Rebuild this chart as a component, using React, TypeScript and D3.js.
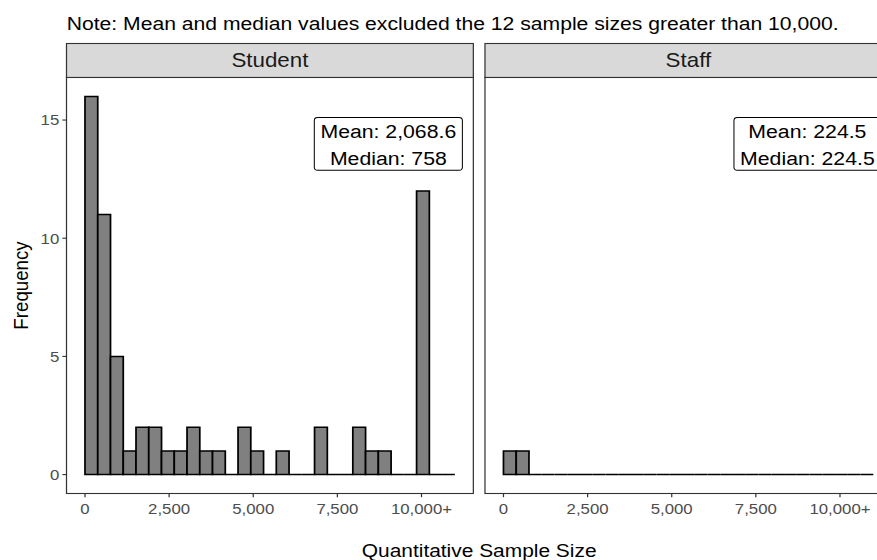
import React, { useEffect, useRef } from "react";
import * as d3 from "d3";

const panels = ["Student", "Staff"];
const binWidth = 379;
const studentCounts = [16, 11, 5, 1, 2, 2, 1, 1, 2, 1, 1, 0, 2, 1, 0, 1, 0, 0, 2, 0, 0, 2, 1, 1, 0, 0, 12, 0, 0];
const staffCounts = [1, 1, 0, 0, 0, 0, 0, 0, 0, 0, 0, 0, 0, 0, 0, 0, 0, 0, 0, 0, 0, 0, 0, 0, 0, 0, 0, 0, 0];
const meanLabels = ["Mean: 2,068.6", "Mean: 224.5"];
const medianLabels = ["Median: 758", "Median: 224.5"];
const xTicks = [0, 2500, 5000, 7500, 10000];
const xTickLabels = ["0", "2,500", "5,000", "7,500", "10,000+"];
const yTicks = [0, 5, 10, 15];
const titleText = "Note: Mean and median values excluded the 12 sample sizes greater than 10,000.";
const xTitle = "Quantitative Sample Size";
const yTitle = "Frequency";

const FONT = "'Liberation Sans', Arial, Helvetica, sans-serif";

export default function App() {
  const ref = useRef<SVGSVGElement | null>(null);

  useEffect(() => {
    const svg = d3.select(ref.current);
    svg.selectAll("*").remove();
    const SX = 877 / 784;
    const root = svg.append("g").attr("transform", `scale(${SX},1)`);

    const panelW = 363.7;
    const panelLefts = [59.45, 433.55];
    const stripTop = 43.5;
    const panelTop = 77.5;
    const panelBottom = 493.5;

    const allCounts = [studentCounts, staffCounts];
    const nb = studentCounts.length;
    const R = nb * binWidth;
    const yMax = d3.max(studentCounts) as number;

    const y = d3
      .scaleLinear()
      .domain([-0.05 * yMax, yMax * 1.05])
      .range([panelBottom, panelTop]);

    // title
    root
      .append("text")
      .attr("x", 59.6)
      .attr("y", 30)
      .attr("font-family", FONT)
      .attr("font-size", 18.9)
      .attr("fill", "#000")
      .text(titleText);

    panels.forEach((name, pi) => {
      const left = panelLefts[pi];
      const x = d3
        .scaleLinear()
        .domain([-0.05 * R, R * 1.05])
        .range([left, left + panelW]);
      const g = root.append("g");

      // strip
      g.append("rect")
        .attr("x", left)
        .attr("y", stripTop)
        .attr("width", panelW)
        .attr("height", panelTop - stripTop)
        .attr("fill", "#D9D9D9")
        .attr("stroke", "#333333")
        .attr("stroke-width", 1.1);
      g.append("text")
        .attr("x", left + panelW / 2)
        .attr("y", 66.7)
        .attr("text-anchor", "middle")
        .attr("font-family", FONT)
        .attr("font-size", 20)
        .attr("fill", "#1A1A1A")
        .text(name);

      // panel bg
      g.append("rect")
        .attr("x", left)
        .attr("y", panelTop)
        .attr("width", panelW)
        .attr("height", panelBottom - panelTop)
        .attr("fill", "#fff");

      // bars
      const counts = allCounts[pi];
      g.selectAll("path.bar")
        .data(counts)
        .enter()
        .append("path")
        .attr("class", "bar")
        .attr("d", (c, i) => {
          const x0 = x(i * binWidth);
          const x1 = x((i + 1) * binWidth);
          const y0 = y(0);
          const y1 = y(c);
          return `M${x0},${y0}V${y1}H${x1}V${y0}Z`;
        })
        .attr("fill", "#808080")
        .attr("stroke", "#000")
        .attr("stroke-width", 1.55)
        .attr("stroke-linejoin", "miter");

      // label box
      const lg = g.append("g");
      const t1 = lg
        .append("text")
        .attr("text-anchor", "middle")
        .attr("font-family", FONT)
        .attr("font-size", 19)
        .attr("fill", "#000")
        .text(meanLabels[pi]);
      const t2 = lg
        .append("text")
        .attr("text-anchor", "middle")
        .attr("font-family", FONT)
        .attr("font-size", 19)
        .attr("fill", "#000")
        .text(medianLabels[pi]);
      const w1 = (t1.node() as SVGTextElement).getComputedTextLength();
      const w2 = (t2.node() as SVGTextElement).getComputedTextLength();
      const bw = Math.max(w1, w2) + 11;
      const bx1 = left + panelW - 9.8;
      const bx0 = bx1 - bw;
      const cx = (bx0 + bx1) / 2;
      t1.attr("x", cx).attr("y", 137.8);
      t2.attr("x", cx).attr("y", 165);
      lg.insert("rect", "text")
        .attr("x", bx0)
        .attr("y", 117.5)
        .attr("width", bw)
        .attr("height", 52.7)
        .attr("rx", 3)
        .attr("ry", 3)
        .attr("fill", "#fff")
        .attr("stroke", "#000")
        .attr("stroke-width", 0.9);

      // panel border
      g.append("rect")
        .attr("x", left)
        .attr("y", panelTop)
        .attr("width", panelW)
        .attr("height", panelBottom - panelTop)
        .attr("fill", "none")
        .attr("stroke", "#333333")
        .attr("stroke-width", 1.1);

      // x axis
      const xa = g.append("g").attr("transform", `translate(0,${panelBottom})`);
      xTicks.forEach((t, ti) => {
        xa.append("line")
          .attr("x1", x(t))
          .attr("x2", x(t))
          .attr("y1", 0)
          .attr("y2", 3.7)
          .attr("stroke", "#333333")
          .attr("stroke-width", 1.1);
        xa.append("text")
          .attr("x", x(t))
          .attr("y", 20.8)
          .attr("text-anchor", "middle")
          .attr("font-family", FONT)
          .attr("font-size", 15)
          .attr("fill", "#4D4D4D")
          .text(xTickLabels[ti]);
      });

      // y axis (first panel only)
      if (pi === 0) {
        yTicks.forEach((t) => {
          g.append("line")
            .attr("x1", left - 3.7)
            .attr("x2", left)
            .attr("y1", y(t))
            .attr("y2", y(t))
            .attr("stroke", "#333333")
            .attr("stroke-width", 1.1);
          g.append("text")
            .attr("x", left - 6.5)
            .attr("y", y(t))
            .attr("dy", "0.36em")
            .attr("text-anchor", "end")
            .attr("font-family", FONT)
            .attr("font-size", 15)
            .attr("fill", "#4D4D4D")
            .text(String(t));
        });
      }
    });

    // axis titles
    root
      .append("text")
      .attr("x", (panelLefts[0] + panelLefts[1] + panelW) / 2)
      .attr("y", 556.7)
      .attr("text-anchor", "middle")
      .attr("font-family", FONT)
      .attr("font-size", 18.7)
      .attr("fill", "#000")
      .text(xTitle);
    root
      .append("text")
      .attr("transform", `translate(25.3,${(panelTop + panelBottom) / 2}) rotate(-90)`)
      .attr("text-anchor", "middle")
      .attr("font-family", FONT)
      .attr("font-size", 18.7)
      .attr("fill", "#000")
      .text(yTitle);
  }, []);

  return (
    <svg
      ref={ref}
      width={877}
      height={560}
      style={{ position: "absolute", left: 0, top: 0, display: "block", background: "#fff" }}
    />
  );
}
